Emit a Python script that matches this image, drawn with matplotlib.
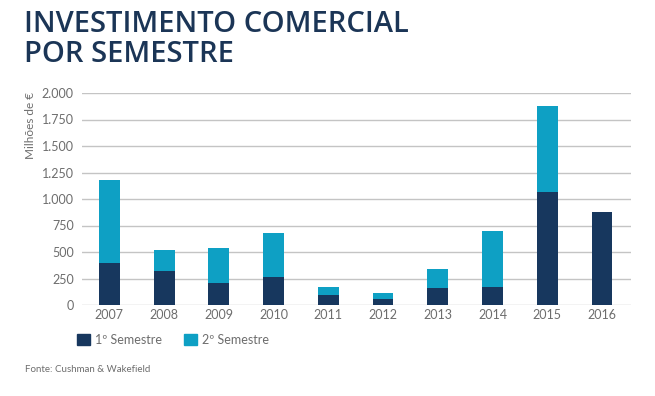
import matplotlib
matplotlib.use("Agg")
from matplotlib import pyplot as plt
from matplotlib.patches import Patch
from matplotlib.ticker import FuncFormatter

years = ["2007", "2008", "2009", "2010", "2011", "2012", "2013", "2014", "2015", "2016"]
sem1 = [400, 320, 210, 267, 94, 53, 157, 173, 1069, 874]
sem2 = [779, 199, 327, 415, 79, 57, 179, 525, 808, 0]
y_ticks = [0, 250, 500, 750, 1000, 1250, 1500, 1750, 2000]

dark = "#17375e"
light = "#0ea0c4"
grey = "#6d6d6d"

plt.rcParams["font.family"] = ["Lato", "DejaVu Sans"]

fig = plt.figure(figsize=(6.55, 3.96), dpi=100)
ax = fig.add_axes([82 / 655, 1 - 305 / 396, (631 - 82) / 655, (305 - 93) / 396])

x = range(len(years))
ax.bar(x, sem1, width=0.38, color=dark, zorder=3)
ax.bar(x, sem2, width=0.38, bottom=sem1, color=light, zorder=3)

ax.set_xlim(-0.5, 9.53)
ax.set_ylim(0, 2000)
ax.set_yticks(y_ticks)
ax.yaxis.set_major_formatter(FuncFormatter(lambda v, p: f"{int(v):,}".replace(",", ".")))
ax.set_xticks(list(x))
ax.set_xticklabels(years)
ax.grid(axis="y", color="#c4c4c4", linewidth=1, zorder=0)
for s in ax.spines.values():
    s.set_visible(False)
ax.tick_params(length=0, labelsize=9, colors=grey, pad=6)
ax.tick_params(axis="x", pad=3)

title_font = ["Open Sans", "DejaVu Sans"]
fig.text(24 / 655, 1 - 31.7 / 396, "INVESTIMENTO COMERCIAL", fontsize=21, color="#1b3556",
         va="baseline", ha="left", fontweight="semibold", family=title_font)
fig.text(24 / 655, 1 - 61.7 / 396, "POR SEMESTRE", fontsize=21, color="#1b3556",
         va="baseline", ha="left", fontweight="semibold", family=title_font)
fig.text(31 / 655, 1 - 125 / 396, "Milhões de €", rotation=90, fontsize=8.5, color=grey,
         va="center", ha="center")

handles = [Patch(color=dark, label="1º Semestre"), Patch(color=light, label="2º Semestre")]
fig.legend(handles=handles, loc="center left", bbox_to_anchor=(66 / 655, 1 - 340 / 396),
           ncol=2, frameon=False, fontsize=9, labelcolor=grey, handlelength=1.0,
           handleheight=1.0, handletextpad=0.4, columnspacing=1.8)

fig.text(25 / 655, 1 - 370 / 396, "Fonte: Cushman & Wakefield", fontsize=7, color=grey,
         va="center", ha="left")

fig.savefig("out.png", dpi=100)
